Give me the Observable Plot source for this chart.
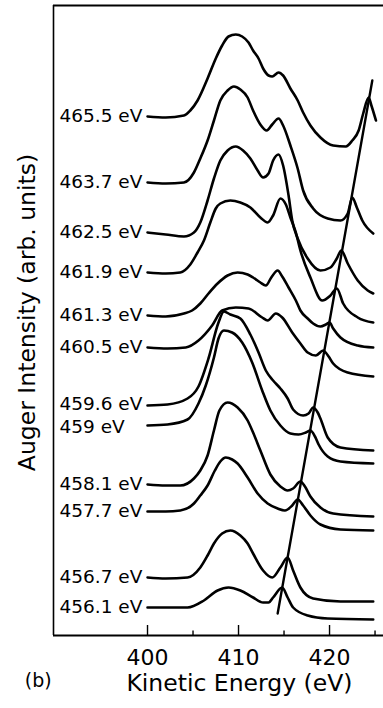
<!DOCTYPE html>
<html>
<head>
<meta charset="utf-8">
<script src="https://cdn.jsdelivr.net/npm/d3@7"></script>
<script src="https://cdn.jsdelivr.net/npm/@observablehq/plot@0.6"></script>
<style>
  html, body { margin: 0; padding: 0; background: #fff; }
  #chart svg { display: block; }
</style>
</head>
<body>
<div id="chart"></div>
<script>
// Photon energies (curve labels), top to bottom
const labels = ["465.5 eV","463.7 eV","462.5 eV","461.9 eV","461.3 eV","460.5 eV",
                "459.6 eV","459 eV","458.1 eV","457.7 eV","456.7 eV","456.1 eV"];

// Each spectrum: [kinetic energy (eV), intensity (arb. units, offset)]
const s465_5 = [[400.0,51.9],[402.0,51.8],[404.0,52.0],[404.7,52.5],[405.5,53.5],[406.6,55.7],[407.5,57.7],[408.2,59.0],[408.9,59.9],[409.7,60.1],[410.4,59.9],[411.1,59.3],[411.6,58.5],[412.2,57.7],[412.7,56.7],[413.3,56.0],[413.7,55.9],[414.4,56.3],[414.9,56.0],[415.7,54.7],[416.5,53.5],[417.1,52.3],[417.9,51.0],[419.0,49.8],[420.4,49.0],[421.8,48.9],[422.5,49.5],[423.2,50.5],[423.7,52.2],[424.3,53.8],[424.6,53.0],[425.1,51.5]];
const s463_7 = [[400.0,45.3],[402.0,45.2],[404.0,45.3],[405.1,46.3],[405.8,47.7],[406.6,49.5],[407.3,51.5],[408.0,53.5],[408.8,54.5],[409.5,54.9],[410.2,54.6],[411.0,53.8],[411.6,52.5],[412.4,51.1],[413.1,50.5],[413.7,51.1],[414.4,51.7],[414.9,51.0],[415.7,49.0],[416.5,46.7],[417.1,44.5],[418.2,42.7],[419.8,41.7],[421.2,41.5],[422.0,42.2],[422.5,43.8],[423.0,42.8],[423.6,41.5],[424.8,40.2]];
const s462_5 = [[400.0,40.3],[402.0,40.1],[404.0,39.9],[405.1,40.3],[405.8,41.3],[406.6,43.5],[407.3,45.7],[408.0,47.5],[408.8,48.5],[409.7,48.9],[410.5,48.5],[411.3,47.7],[412.1,46.5],[412.7,45.8],[413.3,46.2],[413.8,47.5],[414.4,48.1],[414.9,47.0],[415.5,44.0],[415.9,41.5],[416.5,39.7],[417.6,37.7],[419.0,36.5],[420.1,36.8],[420.8,37.7],[421.3,38.5],[422.0,37.2],[423.1,35.5],[424.2,34.5],[424.8,34.2]];
const s461_9 = [[400.0,36.3],[402.0,36.2],[403.6,36.3],[404.7,37.1],[405.5,38.3],[406.2,39.5],[406.9,41.3],[407.5,42.7],[408.0,43.2],[409.1,43.5],[410.2,43.3],[411.3,42.8],[412.4,41.8],[413.2,41.3],[413.8,42.0],[414.6,43.7],[415.2,43.1],[415.7,41.8],[416.3,40.3],[416.8,38.5],[417.9,35.8],[419.2,33.5],[420.1,34.0],[420.8,34.7],[421.5,33.2],[423.1,31.8],[424.8,31.3]];
const s461_3 = [[400.0,32.0],[402.0,31.9],[404.0,32.2],[404.9,32.5],[405.8,33.2],[406.7,34.2],[407.7,35.2],[408.8,36.0],[409.9,36.3],[411.0,36.1],[411.6,35.8],[412.4,35.3],[413.0,35.0],[413.6,35.8],[414.3,36.5],[414.8,35.9],[415.5,34.8],[416.3,33.5],[416.8,32.5],[417.6,31.7],[418.2,31.2],[419.0,30.9],[419.6,31.1],[420.0,31.3],[420.4,30.7],[421.2,29.8],[423.1,29.0],[424.8,28.8]];
const s460_5 = [[400.0,28.8],[402.2,28.7],[404.2,28.8],[405.6,29.5],[407.1,31.0],[408.2,32.5],[409.7,32.8],[411.1,32.7],[412.6,31.8],[413.2,31.5],[414.1,32.2],[414.8,31.8],[415.9,30.3],[416.8,29.2],[417.6,28.3],[418.5,28.0],[419.3,28.5],[419.9,27.9],[420.4,27.2],[422.0,26.3],[424.8,25.9]];
const s459_6 = [[400.0,23.0],[402.2,23.1],[404.4,23.7],[405.6,24.9],[406.7,27.7],[407.8,31.3],[408.4,32.4],[409.1,32.1],[410.2,31.7],[411.3,30.1],[412.2,28.3],[413.0,26.5],[413.8,25.5],[414.6,24.7],[415.4,23.7],[416.0,22.6],[417.1,22.0],[417.7,22.2],[418.2,22.8],[418.7,22.3],[419.0,21.7],[419.8,19.8],[421.2,18.8],[424.8,18.5]];
const s459_0 = [[400.0,21.0],[402.2,21.1],[404.4,21.6],[405.6,23.2],[406.4,25.0],[407.3,27.8],[407.8,29.7],[408.4,30.5],[409.3,30.3],[410.4,29.3],[411.5,27.3],[412.6,24.5],[413.5,22.5],[414.6,21.0],[415.7,20.2],[416.6,20.1],[417.4,20.3],[417.9,20.5],[418.4,19.9],[418.8,19.1],[419.8,17.9],[421.2,17.4],[424.8,17.2]];
const s458_1 = [[400.0,15.1],[402.0,15.0],[403.6,15.0],[405.1,15.7],[405.8,16.5],[406.6,18.0],[407.3,20.5],[407.9,22.5],[408.8,23.3],[409.9,22.8],[411.0,21.5],[411.6,20.3],[412.4,18.5],[413.5,16.1],[414.6,14.9],[415.4,14.5],[416.0,14.7],[416.8,15.4],[417.3,14.9],[417.9,13.9],[419.0,12.8],[420.4,12.2],[424.8,11.9]];
const s457_7 = [[400.0,12.4],[402.0,12.4],[403.6,12.5],[405.1,13.2],[405.8,14.0],[406.6,15.0],[407.4,16.5],[408.0,17.4],[408.6,17.8],[409.3,17.6],[409.9,17.2],[411.0,15.8],[412.1,14.2],[413.2,13.2],[414.3,12.7],[415.1,12.5],[415.9,13.0],[416.5,13.6],[417.1,13.0],[417.9,12.0],[419.0,11.1],[421.2,10.6],[424.8,10.5]];
const s456_7 = [[400.0,5.8],[402.0,5.7],[404.4,5.8],[405.8,6.8],[406.6,8.0],[407.3,9.2],[408.2,10.2],[409.1,10.5],[410.2,10.0],[411.0,9.2],[411.6,8.2],[412.7,6.5],[413.7,5.8],[414.6,6.8],[415.4,7.8],[416.0,6.5],[416.8,4.8],[418.2,3.7],[421.2,3.4],[424.8,3.4]];
const s456_1 = [[400.0,2.8],[402.0,2.8],[404.4,2.8],[406.2,3.5],[407.7,4.5],[408.9,4.8],[410.2,4.5],[411.6,3.8],[412.7,3.3],[413.3,3.3],[413.8,3.8],[414.8,4.8],[415.4,3.8],[416.0,2.8],[417.6,2.0],[419.8,1.7],[424.8,1.6]];

// Straight line through the dispersing peak
const peakLine = [[414.3, 2.2], [424.7, 55.5]];

// Axis ticks
const majorTicks = [400, 410, 420];
const minorTicks = [405, 415, 425];

const spectra = [s465_5, s463_7, s462_5, s461_9, s461_3, s460_5, s459_6, s459_0, s458_1, s457_7, s456_7, s456_1];
const rows = spectra.flatMap((s, k) => s.map(([e, v]) => ({label: labels[k], e, v})));
const starts = spectra.map((s, k) => ({label: labels[k], v: s[0][1]}));
// the two tightly spaced labels are nudged apart by a pixel each
const startsUpper = starts.filter(d => d.label === "459.6 eV");
const startsLower = starts.filter(d => d.label === "459 eV");
const startsRest = starts.filter(d => d.label !== "459.6 eV" && d.label !== "459 eV");

const xDomain = [389.67, 425.93];
const yDomain = [0, 63];
const FONT = "DejaVu Sans, Liberation Sans, Arial, sans-serif";
const labelStyle = {y: "v", text: "label", frameAnchor: "left", dx: 6, textAnchor: "start", fontSize: 18.5, fill: "#000"};

const chart = Plot.plot({
  width: 383,
  height: 708,
  marginLeft: 53,
  marginRight: 0,
  marginTop: 5,
  marginBottom: 73,
  style: {fontFamily: FONT, background: "#fff", color: "#000"},
  x: {domain: xDomain, axis: null},
  y: {domain: yDomain, axis: null},
  marks: [
    // frame: left, top, bottom
    Plot.ruleX([xDomain[0]], {stroke: "#000", strokeWidth: 1.6}),
    Plot.ruleY([yDomain[1]], {stroke: "#000", strokeWidth: 2}),
    Plot.ruleY([yDomain[0]], {stroke: "#000", strokeWidth: 2}),
    // inward ticks
    Plot.ruleX(majorTicks, {x: d => d, y1: 0, y2: 1.0, stroke: "#000", strokeWidth: 1.4}),
    Plot.ruleX(minorTicks, {x: d => d, y1: 0, y2: 0.45, stroke: "#000", strokeWidth: 1.4}),
    Plot.text(majorTicks, {x: d => d, text: d => String(d), frameAnchor: "bottom", dy: 29, fontSize: 22, fill: "#000"}),
    // spectra
    Plot.line(rows, {x: "e", y: "v", z: "label", stroke: "#000", strokeWidth: 2.6, curve: "monotone-x", strokeLinejoin: "round", strokeLinecap: "round"}),
    Plot.line(peakLine, {x: d => d[0], y: d => d[1], stroke: "#000", strokeWidth: 2.4, strokeLinecap: "round"}),
    // curve labels
    Plot.text(startsRest, labelStyle),
    Plot.text(startsUpper, {...labelStyle, dy: -1.5}),
    Plot.text(startsLower, {...labelStyle, dy: 1.5}),
    // axis titles
    Plot.text(["Auger Intensity (arb. units)"], {y: 32.3, text: d => d, frameAnchor: "left", textAnchor: "middle", dx: -26, rotate: -90, fontSize: 23.5, fill: "#000"}),
    Plot.text(["Kinetic Energy (eV)"], {x: 410.1, text: d => d, frameAnchor: "bottom", textAnchor: "middle", dy: 55, fontSize: 23.5, fill: "#000"}),
    Plot.text(["(b)"], {x: 388.0, text: d => d, frameAnchor: "bottom", textAnchor: "middle", dy: 51, fontSize: 19, fill: "#000"})
  ]
});
document.getElementById("chart").appendChild(chart);
</script>
</body>
</html>
